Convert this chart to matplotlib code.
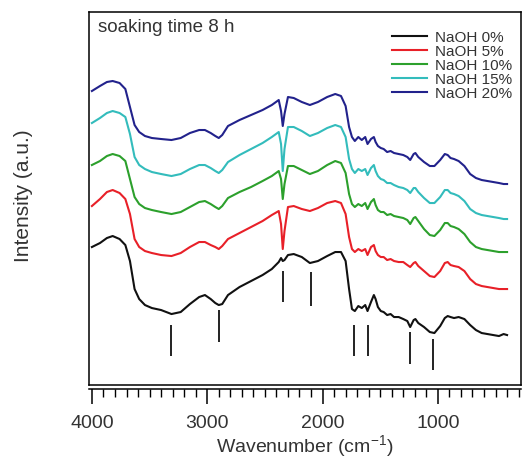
import numpy as np
import matplotlib
matplotlib.use("Agg")
import matplotlib.pyplot as plt
from matplotlib.ticker import MultipleLocator

plt.rcParams["font.family"] = ["Liberation Sans", "DejaVu Sans"]
plt.rcParams["mathtext.fontset"] = "custom"
plt.rcParams["mathtext.rm"] = "Liberation Sans"
plt.rcParams["mathtext.it"] = "Liberation Sans"

# wavenumber grid (cm-1)
wavenumber = [4000, 3930, 3870, 3820, 3760, 3710, 3670, 3630, 3590, 3540,
              3480, 3400, 3310, 3230, 3150, 3070, 3020, 2970, 2930, 2900,
              2870, 2820, 2720, 2620, 2520, 2440, 2380, 2360, 2345, 2330,
              2300, 2250, 2180, 2110, 2040, 1960, 1890, 1840, 1800, 1770,
              1745, 1720, 1690, 1660, 1630, 1610, 1580, 1555, 1540, 1520,
              1495, 1470, 1440, 1410, 1380, 1340, 1300, 1265, 1240, 1210,
              1195, 1170, 1120, 1070, 1030, 980, 940, 915, 890, 860,
              820, 770, 720, 670, 620, 570, 520, 470, 430, 400]

# stacked spectra (arbitrary units)
naoh_0 = [152, 156, 161, 163, 160, 154, 138, 110, 100, 94,
          91, 89, 85, 87, 95, 102, 104, 100, 96, 94,
          95, 104, 112, 118, 124, 130, 137, 141, 138, 139,
          144, 145, 142, 136, 138, 143, 147, 147, 138, 110,
          90, 88, 93, 91, 94, 88, 97, 104, 100, 92,
          88, 87, 84, 85, 82, 82, 80, 78, 72, 79,
          80, 76, 72, 67, 66, 73, 81, 83, 82, 81,
          82, 80, 74, 69, 66, 65, 64, 63, 65, 64]
naoh_5 = [193, 200, 207, 209, 206, 200, 185, 160, 152, 148,
          146, 144, 143, 146, 152, 157, 157, 154, 152, 150,
          153, 160, 166, 172, 178, 184, 188, 175, 150, 168,
          192, 193, 190, 188, 191, 196, 198, 196, 185, 162,
          150, 147, 150, 148, 150, 144, 152, 154, 148, 144,
          142, 142, 139, 140, 138, 137, 137, 134, 132, 136,
          137, 133, 128, 123, 122, 128, 136, 137, 134, 133,
          132, 128, 120, 115, 113, 112, 111, 110, 110, 110]
naoh_10 = [234, 238, 243, 245, 243, 238, 220, 202, 195, 191,
           189, 187, 185, 187, 192, 197, 198, 195, 192, 190,
           193, 201, 207, 212, 218, 223, 228, 220, 200, 215,
           233, 233, 229, 225, 228, 234, 238, 236, 226, 205,
           195, 192, 195, 193, 196, 190, 197, 200, 194, 189,
           187, 187, 184, 185, 183, 182, 181, 179, 175, 181,
           182, 178, 170, 164, 163, 169, 176, 176, 173, 172,
           170, 165, 157, 152, 150, 149, 148, 147, 147, 147]
naoh_15 = [276, 281, 286, 288, 286, 282, 265, 242, 234, 230,
           227, 225, 223, 225, 230, 234, 234, 231, 228, 226,
           229, 237, 244, 250, 256, 262, 267, 255, 228, 250,
           272, 272, 268, 263, 266, 271, 274, 272, 262, 240,
           230, 226, 230, 228, 230, 224, 231, 234, 228, 223,
           220, 219, 216, 216, 214, 212, 211, 209, 206, 211,
           211, 207, 201, 196, 196, 202, 209, 209, 206, 205,
           203, 198, 190, 186, 184, 183, 182, 181, 180, 180]
naoh_20 = [308, 313, 317, 318, 316, 310, 292, 274, 267, 263,
           261, 260, 259, 261, 266, 269, 269, 266, 263, 261,
           264, 273, 279, 284, 289, 294, 299, 288, 273, 285,
           302, 301, 297, 294, 297, 302, 305, 303, 293, 272,
           262, 258, 262, 259, 262, 255, 260, 262, 257, 253,
           251, 250, 247, 248, 246, 245, 244, 242, 239, 245,
           246, 242, 237, 233, 233, 239, 245, 244, 241, 240,
           238, 233, 225, 221, 219, 218, 217, 216, 215, 215]

labels = ["NaOH 0%", "NaOH 5%", "NaOH 10%", "NaOH 15%", "NaOH 20%"]
colors = ["#111111", "#e82028", "#2ca02c", "#33bcbc", "#22228c"]

# band markers below the bottom spectrum
band_pos = [3310, 2900, 2340, 2100, 1730, 1610, 1245, 1045]
band_low = [43, 57, 97, 93, 43, 43, 35, 29]
band_high = [74, 89, 128, 127, 74, 74, 67, 60]

fig = plt.figure(figsize=(5.23, 4.64), dpi=100)
ax = fig.add_axes([0.170, 0.168, 0.826, 0.804])

for y, lab, c in zip([naoh_0, naoh_5, naoh_10, naoh_15, naoh_20], labels, colors):
    ax.plot(wavenumber, y, color=c, lw=1.5, label=lab)

ax.vlines(band_pos, band_low, band_high, color="#222222", lw=1.4)

ax.set_xlim(4026, 280)
ax.set_ylim(14, 387)
ax.set_yticks([])

ax.xaxis.set_major_locator(MultipleLocator(1000))
ax.xaxis.set_minor_locator(MultipleLocator(100))
ax.tick_params(axis="x", which="major", direction="out", length=10.5, width=1.1,
               labelsize=14, labelcolor="#333333", pad=7)
ax.tick_params(axis="x", which="minor", direction="out", length=6, width=1.0)

for s in ax.spines.values():
    s.set_linewidth(1.1)
ax.spines["bottom"].set_position(("outward", 3))
ax.plot([0, 1], [0, 0], transform=ax.transAxes, color="k", lw=1.1, clip_on=False)

ax.set_xlabel("Wavenumber (cm$^{-1}$)", fontsize=14, color="#333333", labelpad=1)
ax.set_ylabel("Intensity (a.u.)", fontsize=15, color="#333333")
ax.yaxis.set_label_coords(-0.13, 0.51)

ax.text(0.02, 0.984, "soaking time 8 h", transform=ax.transAxes, fontsize=13.5,
        color="#333333", va="top", ha="left")

ax.legend(loc="upper right", frameon=False, fontsize=11, handlelength=2.3,
          labelspacing=0.0, handletextpad=0.5, borderaxespad=0, borderpad=0,
          bbox_to_anchor=(0.979, 0.952), labelcolor="#333333")

fig.savefig("out.png", dpi=100)
